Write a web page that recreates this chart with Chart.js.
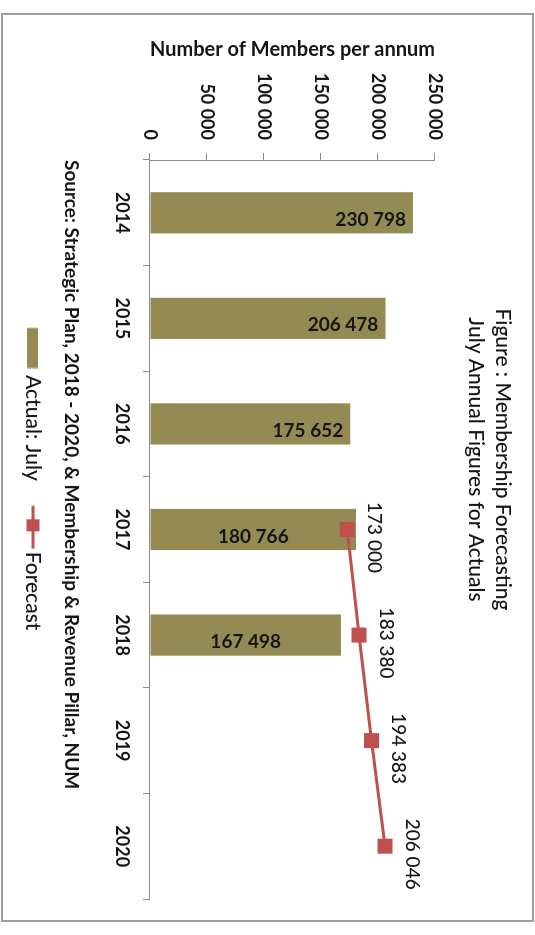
<!DOCTYPE html>
<html>
<head>
<meta charset="utf-8">
<title>Membership Forecasting</title>
<script src="https://cdn.jsdelivr.net/npm/chart.js@4.4.1/dist/chart.umd.min.js"></script>
<style>
  html, body { margin: 0; padding: 0; background: #ffffff; width: 535px; height: 935px; overflow: hidden; }
  /* the chart is laid out landscape and turned a quarter turn clockwise */
  #stage {
    position: absolute; left: 0; top: 0; width: 935px; height: 535px;
    transform-origin: 0 0; transform: translate(535px, 0) rotate(90deg);
  }
  #frame {
    position: absolute; left: 13px; top: 1px; width: 909px; height: 533px;
    border: 2px solid #9d9d9d; box-sizing: border-box;
  }
  #chart { position: absolute; left: 0; top: 0; }
</style>
</head>
<body>
<div id="stage">
  <div id="frame"></div>
  <canvas id="chart" width="935" height="535"></canvas>
</div>
<script>
// ---- data ----
const years = ['2014', '2015', '2016', '2017', '2018', '2019', '2020'];
const actualJuly = [230798, 206478, 175652, 180766, 167498, null, null];
const forecast = [null, null, null, 173000, 183380, 194383, 206046];
const valueTicks = [0, 50000, 100000, 150000, 200000, 250000];
const seriesNames = ['Actual: July', 'Forecast'];
const titleLines = ['Figure : Membership Forecasting', 'July Annual Figures for Actuals'];
const valueAxisTitle = 'Number of Members per annum';
const sourceNote = 'Source: Strategic Plan, 2018 - 2020, & Membership & Revenue Pillar, NUM';

// ---- styling ----
const OLIVE = '#948a54';
const RED = '#c0504d';
const AXIS = '#8c8c8c';
const INK = '#151515';
const FONT = 'Lato';
const PLAIN = 500;   // weight for the non-bold texts

// thousands separated by a space: 230798 -> "230 798"
const fmt = v => String(v).replace(/\B(?=(\d{3})+(?!\d))/g, ' ');

// small legend keys drawn on offscreen canvases
function legendKey(w, h, paint) {
  const c = document.createElement('canvas');
  c.width = w; c.height = h;
  paint(c.getContext('2d'));
  return c;
}
const barKey = legendKey(60, 11, g => { g.fillStyle = OLIVE; g.fillRect(19.5, 0, 40, 11); });
const lineKey = legendKey(68, 14, g => {
  g.strokeStyle = RED; g.lineWidth = 3;
  g.beginPath(); g.moveTo(24.5, 7); g.lineTo(67.5, 7); g.stroke();
  g.fillStyle = RED; g.fillRect(38, 0.5, 12, 13);
});

// value labels: rotated labels inside the bars, plain labels above the forecast points
const valueLabels = {
  id: 'valueLabels',
  afterDatasetsDraw(chart) {
    const ctx = chart.ctx;
    const bars = chart.getDatasetMeta(0).data;
    ctx.save();
    ctx.fillStyle = INK;
    ctx.font = `bold 19px ${FONT}`;
    bars.forEach((bar, i) => {
      const v = actualJuly[i];
      if (v == null) return;
      const shared = forecast[i] != null;
      ctx.save();
      ctx.translate(bar.x + 7, shared ? (bar.y + bar.base) / 2 : bar.y + 7);
      ctx.rotate(-Math.PI / 2);
      ctx.textAlign = shared ? 'center' : 'right';
      ctx.textBaseline = 'middle';
      ctx.fillText(fmt(v), 0, 0);
      ctx.restore();
    });
    const pts = chart.getDatasetMeta(1).data;
    ctx.font = `${PLAIN} 19px ${FONT}`;
    ctx.textAlign = 'center';
    ctx.textBaseline = 'middle';
    pts.forEach((pt, i) => {
      const v = forecast[i];
      if (v == null) return;
      ctx.fillText(fmt(v), pt.x + 8, pt.y - 27);
    });
    ctx.restore();
  }
};

// nudge the legend row so it sits under the plot the way the figure has it
const legendStart = 312.5;
const legendPlacement = {
  id: 'legendPlacement',
  afterUpdate(chart) {
    const lg = chart.legend;
    if (!lg || !lg.lineWidths) return;
    const p = lg.options.labels.padding;
    const x1 = (lg.left + p + lg.right - lg.lineWidths[0]) / 2;
    const dx = legendStart - x1;
    lg.left += dx;
    lg.right += dx;
  }
};

new Chart(document.getElementById('chart'), {
  data: {
    labels: years,
    datasets: [
      {
        type: 'bar', label: seriesNames[0], data: actualJuly,
        backgroundColor: OLIVE, borderWidth: 0,
        categoryPercentage: 1, barPercentage: 0.39, order: 2
      },
      {
        type: 'line', label: seriesNames[1], data: forecast,
        borderColor: RED, borderWidth: 3, backgroundColor: RED,
        pointStyle: 'rect', pointRadius: 10.6, pointBorderWidth: 0,
        pointBackgroundColor: RED, tension: 0, fill: false, order: 1
      }
    ]
  },
  options: {
    responsive: false,
    animation: false,
    devicePixelRatio: 1,
    layout: { padding: { left: 20, right: 36, top: 0, bottom: 12.5 } },
    plugins: {
      title: {
        display: true, text: titleLines, color: INK,
        font: { family: FONT, size: 21, weight: PLAIN, lineHeight: 27 / 21 },
        padding: { top: 18.5, bottom: 27.5 }
      },
      legend: {
        position: 'bottom',
        labels: {
          usePointStyle: true, pointStyleWidth: 52, padding: 8.5,
          color: INK, font: { family: FONT, size: 21, weight: PLAIN },
          generateLabels: () => [
            { text: seriesNames[0], pointStyle: barKey, fillStyle: OLIVE, strokeStyle: OLIVE, fontColor: INK, lineWidth: 0, hidden: false, datasetIndex: 0 },
            { text: seriesNames[1], pointStyle: lineKey, fillStyle: RED, strokeStyle: RED, fontColor: INK, lineWidth: 0, hidden: false, datasetIndex: 1 }
          ]
        }
      },
      tooltip: { enabled: false }
    },
    scales: {
      x: {
        type: 'category', position: 'bottom', offset: true,
        grid: { offset: true, drawOnChartArea: false, drawTicks: true, tickLength: 7, color: AXIS, lineWidth: 1 },
        border: { display: true, color: AXIS, width: 1 },
        ticks: { color: INK, font: { family: FONT, size: 18, weight: 'bold' }, padding: 10, maxRotation: 0, autoSkip: false },
        title: {
          display: true, text: sourceNote, align: 'start', color: INK,
          font: { family: FONT, size: 19, weight: 'bold' }, padding: { top: 0, bottom: 8 }
        },
        afterFit: s => { s.height = 98; }
      },
      y: {
        type: 'linear', position: 'left', min: 0, max: 250000,
        afterBuildTicks: s => { s.ticks = valueTicks.map(v => ({ value: v })); },
        grid: { drawOnChartArea: false, drawTicks: true, tickLength: 7, color: AXIS, lineWidth: 1 },
        border: { display: true, color: AXIS, width: 1 },
        ticks: { color: INK, font: { family: FONT, size: 18, weight: 'bold' }, padding: 13, callback: v => fmt(v) },
        title: {
          display: true, text: valueAxisTitle, color: INK,
          font: { family: FONT, size: 20, weight: 'bold' }, padding: { top: 18, bottom: 0 }
        },
        afterFit: s => { s.width = 140; }
      }
    }
  },
  plugins: [valueLabels, legendPlacement]
});
</script>
</body>
</html>
